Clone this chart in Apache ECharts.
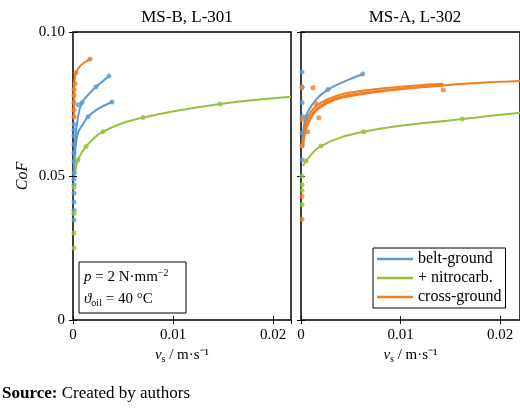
<!DOCTYPE html><html><head><meta charset="utf-8"><script src="https://cdn.jsdelivr.net/npm/echarts@6/dist/echarts.min.js"></script>
<style>body{margin:0}#c{width:520px;height:419px}</style></head><body><div id="c"></div><script>
// Left panel (MS-B, L-301)
const L_blue1_fit=[[0.0001,0.050],[0.0002,0.062],[0.0005,0.0705],[0.0009,0.0755],[0.0016,0.0785],[0.0023,0.081],[0.003,0.083],[0.0036,0.0847]];
const L_blue1_pts=[[0.0005,0.0747],[0.0009,0.0755],[0.0023,0.081],[0.0036,0.0847]];
const L_blue2_fit=[[0.0001,0.050],[0.0002,0.058],[0.0005,0.065],[0.001,0.068],[0.0015,0.0706],[0.0025,0.0733],[0.0039,0.0757]];
const L_blue2_pts=[[0.0015,0.0706],[0.0039,0.0757]];
const L_blue0_pts=[[0.0001,0.068],[0.0001,0.066],[0.0001,0.064],[0.0001,0.061],[0.0001,0.058],[0.0001,0.055],[0.0001,0.051],[0.0001,0.049],[0.0001,0.047],[0.0001,0.044],[0.0001,0.041],[0.0001,0.038],[0.0001,0.0347]];
const L_orange_fit=[[0.0001,0.070],[0.0001,0.080],[0.0003,0.0859],[0.0008,0.0885],[0.0017,0.0906]];
const L_orange_pts=[[0.0001,0.0705],[0.0001,0.073],[0.0001,0.0755],[0.0001,0.078],[0.0001,0.080],[0.0002,0.082],[0.0003,0.0859],[0.0017,0.0906]];
const L_green_fit=[[0.0002,0.0503],[0.0005,0.0556],[0.0013,0.0602],[0.003,0.0654],[0.007,0.0703],[0.0147,0.075],[0.0218,0.0775]];
const L_green_pts=[[0.0001,0.046],[0.0001,0.037],[0.0001,0.0302],[0.0001,0.025],[0.0005,0.0556],[0.0013,0.0602],[0.003,0.0654],[0.007,0.0703],[0.0147,0.075]];
// Right panel (MS-A, L-302)
const R_blue_fit=[[0.0001,0.060],[0.0005,0.0706],[0.0015,0.0765],[0.0027,0.080],[0.0045,0.083],[0.0062,0.0854]];
const R_blue_pts=[[0.0001,0.0861],[0.0001,0.081],[0.0001,0.0755],[0.0001,0.0706],[0.0001,0.065],[0.0001,0.0605],[0.0001,0.0556],[0.0005,0.0706],[0.0027,0.080],[0.0062,0.0854]];
const R_or1_fit=[[0.0002,0.062],[0.0007,0.0705],[0.002,0.0755],[0.005,0.079],[0.0143,0.082]];
const R_or2_fit=[[0.0002,0.061],[0.0007,0.069],[0.002,0.0745],[0.005,0.0782],[0.0143,0.0813]];
const R_or3_fit=[[0.0002,0.060],[0.0007,0.068],[0.002,0.074],[0.005,0.0778],[0.0143,0.0815],[0.022,0.083]];
const R_or_pts=[[0.0001,0.0806],[0.0001,0.0695],[0.0001,0.0605],[0.0001,0.043],[0.0001,0.035],[0.0007,0.0654],[0.0012,0.0806],[0.0015,0.0752],[0.0018,0.0702],[0.0025,0.0758],[0.0143,0.0799]];
const R_green_fit=[[0.0002,0.0535],[0.0005,0.0552],[0.002,0.0604],[0.0063,0.0654],[0.0162,0.0698],[0.022,0.072]];
const R_green_pts=[[0.0001,0.050],[0.0001,0.047],[0.0001,0.045],[0.0001,0.040],[0.0005,0.0552],[0.002,0.0604],[0.0063,0.0654],[0.0162,0.0698]];
const xTicks=['0','0.01','0.02'], yTicks=['0','0.05','0.10'];
const C={b:'#5b9bd5',g:'#98c03c',o:'#f47d20'};
const F='Liberation Serif';
const ch=echarts.init(document.getElementById('c'));
function xa(gi,max,top){return {gridIndex:gi,type:'value',min:0,max:max,interval:0.01,position:top?'top':'bottom',
 axisLine:{show:false},axisTick:{inside:true,length:4,lineStyle:{color:'#000'}},splitLine:{show:false},
 axisLabel:{show:!top,color:'#000',fontFamily:F,fontSize:15,showMaxLabel:false,formatter:v=>{const i=Math.round(v/0.01);return Math.abs(v-i*0.01)<1e-9?xTicks[i]:'';}},
 name:top?'':'{i|v}{s|s} / m·s⁻¹',nameLocation:'middle',nameGap:22,nameTextStyle:{color:'#000',fontFamily:F,fontSize:15,rich:{i:{fontStyle:'italic',fontFamily:F,fontSize:15},s:{fontFamily:F,fontSize:10,padding:[8,0,0,0]}}}};}
function ya(gi,right,lab){return {gridIndex:gi,type:'value',min:0,max:0.1,interval:0.05,position:right?'right':'left',
 axisLine:{show:false},axisTick:{inside:true,length:4,lineStyle:{color:'#000'}},splitLine:{show:false},
 axisLabel:{show:lab,color:'#000',fontFamily:F,fontSize:15,formatter:v=>yTicks[Math.round(v/0.05)]},
 name:lab?'CoF':'',nameLocation:'middle',nameGap:42,nameTextStyle:{color:'#000',fontFamily:F,fontSize:16,fontStyle:'italic'}};}
const S=[];
function ln(n,d,col,gi){S.push({name:n,type:'line',data:d,smooth:0.4,showSymbol:false,xAxisIndex:gi*2,yAxisIndex:gi*2,lineStyle:{color:col,width:2},itemStyle:{color:col},z:3});}
function sc(n,d,col,gi){S.push({name:n,type:'scatter',data:d,symbolSize:5,xAxisIndex:gi*2,yAxisIndex:gi*2,itemStyle:{color:col},z:4});}
ln('belt-ground',L_blue1_fit,C.b,0);sc('belt-ground',L_blue1_pts,C.b,0);
ln('belt-ground',L_blue2_fit,C.b,0);sc('belt-ground',L_blue2_pts,C.b,0);sc('belt-ground',L_blue0_pts,C.b,0);
ln('+ nitrocarb.',L_green_fit,C.g,0);sc('+ nitrocarb.',L_green_pts,C.g,0);
ln('cross-ground',L_orange_fit,C.o,0);sc('cross-ground',L_orange_pts,C.o,0);
ln('belt-ground',R_blue_fit,C.b,1);sc('belt-ground',R_blue_pts,C.b,1);
ln('+ nitrocarb.',R_green_fit,C.g,1);sc('+ nitrocarb.',R_green_pts,C.g,1);
ln('cross-ground',R_or1_fit,C.o,1);ln('cross-ground',R_or2_fit,C.o,1);ln('cross-ground',R_or3_fit,C.o,1);sc('cross-ground',R_or_pts,C.o,1);
ch.setOption({animation:false,backgroundColor:'#fff',
 title:[{text:'MS-B, L-301',left:182,top:4,textAlign:'center',textStyle:{fontFamily:F,fontSize:17,fontWeight:'normal',color:'#000'}},
        {text:'MS-A, L-302',left:410,top:4,textAlign:'center',textStyle:{fontFamily:F,fontSize:17,fontWeight:'normal',color:'#000'}}],
 grid:[{left:73,top:32,width:218,height:288,show:true,borderColor:'#000',borderWidth:1.5},
       {left:301,top:32,width:219,height:288,show:true,borderColor:'#000',borderWidth:1.5}],
 xAxis:[xa(0,0.0218,false),xa(0,0.0218,true),xa(1,0.022,false),xa(1,0.022,true)],
 yAxis:[ya(0,false,true),ya(0,true,false),ya(1,false,false),ya(1,true,false)],
 legend:{data:['belt-ground','+ nitrocarb.','cross-ground'],orient:'vertical',left:373,top:248,padding:[3,4,3,4],itemGap:3,
   borderColor:'#000',borderWidth:1,backgroundColor:'#fff',icon:'rect',itemWidth:36,itemHeight:2.5,
   textStyle:{fontFamily:F,fontSize:16,color:'#000'}},
 graphic:[{type:'rect',shape:{x:79,y:262,width:107,height:51},style:{fill:'#fff',stroke:'#000',lineWidth:1},z:10},
  {type:'text',x:84,y:266,z:11,style:{text:'{i|p} = 2 N·mm{u|−2}\n{i|ϑ}{s|oil} = 40 °C',fontFamily:F,fontSize:15,fill:'#000',lineHeight:22,
   rich:{i:{fontStyle:'italic',fontFamily:F,fontSize:15},u:{fontSize:10,fontFamily:F,padding:[0,0,8,0]},s:{fontSize:10,fontFamily:F,padding:[8,0,0,0]}}}},
  {type:'text',x:2,y:385,style:{text:'{b|Source:} Created by authors',fontFamily:F,fontSize:17,fill:'#000',rich:{b:{fontWeight:'bold',fontFamily:F,fontSize:17}}}}],
 series:S});
</script></body></html>
